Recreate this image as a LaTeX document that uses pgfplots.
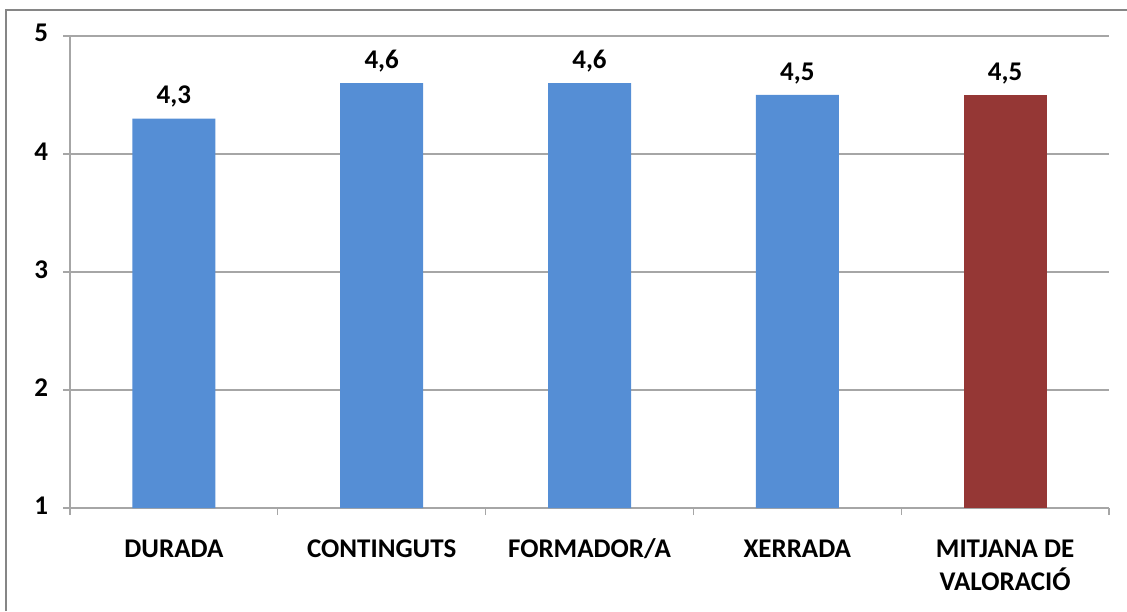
\documentclass[border=0pt]{standalone}
\usepackage{pgfplots}
\pgfplotsset{compat=1.18}
\usepackage{fontspec}
\setmainfont{Carlito}
\definecolor{barblue}{RGB}{85,142,213}
\definecolor{barred}{RGB}{149,55,53}
\definecolor{gridgray}{RGB}{166,166,166}
\definecolor{framegray}{RGB}{134,134,134}
\begin{document}
\begin{tikzpicture}
\useasboundingbox (0,0) rectangle (563.5pt,305.5pt);
\draw[framegray, line width=1.3pt] (3pt,0) -- (3pt,300.5pt) -- (563.5pt,300.5pt);
\begin{axis}[
  at={(35pt,51.5pt)}, anchor=south west,
  scale only axis, width=519.5pt, height=236pt,
  xmin=-0.5, xmax=4.5, ymin=1, ymax=5,
  axis lines*=left,
  axis line style={gridgray, line width=0.6pt},
  ybar, bar width=41.5pt,
  xtick={0,1,2,3,4},
  xticklabels={DURADA,CONTINGUTS,FORMADOR/A,XERRADA,{MITJANA DE\\VALORACIÓ}},
  minor xtick={-0.5,0.5,1.5,2.5,3.5,4.5},
  ytick={1,2,3,4,5},
  tick align=outside,
  major x tick style={draw=none},
  minor x tick style={gridgray, line width=0.6pt},
  minor tick length=3.5pt,
  y tick style={gridgray, line width=0.6pt},
  major tick length=3.5pt,
  ymajorgrids,
  grid style={gridgray, line width=0.6pt},
  xticklabel style={font=\fontsize{13.5}{15}\selectfont\bfseries, align=center, anchor=north, yshift=-7pt},
  yticklabel style={font=\fontsize{13.5}{15}\selectfont\bfseries, xshift=-4pt},
  /pgf/number format/assume math mode=true,
  nodes near coords,
  nodes near coords style={font=\fontsize{13.5}{15}\selectfont\bfseries, black, yshift=2pt,
    /pgf/number format/.cd, fixed, fixed zerofill, precision=1, use comma},
  typeset ticklabels with strut,
]
\addplot[fill=barblue, draw=none, bar shift=0pt] coordinates {(0,4.3) (1,4.6) (2,4.6) (3,4.5)};
\addplot[fill=barred, draw=none, bar shift=0pt] coordinates {(4,4.5)};
\end{axis}
\end{tikzpicture}
\end{document}
